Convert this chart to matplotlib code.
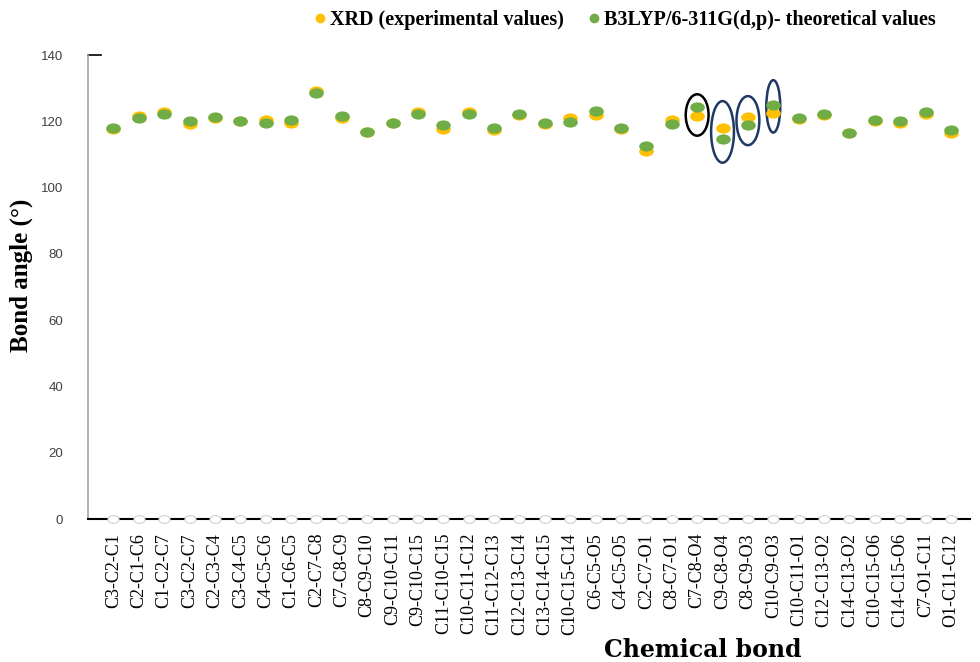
import numpy as np
import matplotlib
matplotlib.use("Agg")
import matplotlib.pyplot as plt
from matplotlib.path import Path
from matplotlib.patches import Ellipse
from matplotlib.lines import Line2D
from matplotlib.transforms import Affine2D

# bond angle labels (34 angles)
bonds = ["C3-C2-C1", "C2-C1-C6", "C1-C2-C7", "C3-C2-C7", "C2-C3-C4", "C3-C4-C5",
         "C4-C5-C6", "C1-C6-C5", "C2-C7-C8", "C7-C8-C9", "C8-C9-C10", "C9-C10-C11",
         "C9-C10-C15", "C11-C10-C15", "C10-C11-C12", "C11-C12-C13", "C12-C13-C14",
         "C13-C14-C15", "C10-C15-C14", "C6-C5-O5", "C4-C5-O5", "C2-C7-O1",
         "C8-C7-O1", "C7-C8-O4", "C9-C8-O4", "C8-C9-O3", "C10-C9-O3", "C10-C11-O1",
         "C12-C13-O2", "C14-C13-O2", "C10-C15-O6", "C14-C15-O6", "C7-O1-C11",
         "O1-C11-C12"]

# experimental (XRD) values
xrd = [117.8, 121.6, 122.9, 119.3, 121.0, 120.1, 120.4, 119.6, 129.0, 120.9,
       116.9, 119.4, 122.9, 117.8, 122.9, 117.5, 122.0, 119.3, 120.9, 121.9,
       117.7, 111.0, 120.4, 121.7, 117.9, 121.2, 122.4, 120.7, 121.9, 116.6,
       120.2, 119.4, 122.1, 116.6]

# B3LYP/6-311G(d,p) values
dft = [118.0, 121.1, 122.2, 120.1, 121.4, 120.2, 119.6, 120.5, 128.6, 121.6,
       116.9, 119.6, 122.2, 118.8, 122.1, 117.9, 122.3, 119.6, 119.9, 123.0,
       117.9, 112.6, 119.2, 124.2, 114.6, 118.8, 124.8, 120.9, 122.1, 116.6,
       120.4, 120.2, 122.7, 117.5]

series_names = ["XRD (experimental values)", "B3LYP/6-311G(d,p)- theoretical values"]
colors = ["#FFC000", "#70AD47"]

# highlighted angles: index, centre y, height (deg), width (category units), colour
highlights = [(23, 121.9, 12.5, 0.9, "black"),
              (24, 116.8, 18.6, 0.9, "#1F3864"),
              (25, 120.2, 14.8, 0.9, "#1F3864"),
              (26, 124.5, 15.8, 0.55, "#1F3864")]

x = np.arange(len(bonds))

# flattened dot marker like in the original
oval = Path.unit_circle().transformed(Affine2D().scale(1.0, 0.7))

fig = plt.figure(figsize=(9.8, 6.62), dpi=100)
ax = fig.add_axes([88 / 980, 143 / 662, 882 / 980, 464 / 662])

for vals, c in zip([xrd, dft], colors):
    ax.plot(x, vals, linestyle="none", marker=oval, markersize=10.5,
            markeredgewidth=0, color=c)

# faint empty circles along the axis
ax.plot(x, np.zeros(len(x)), linestyle="none", marker=oval, markersize=8,
        markerfacecolor="white", markeredgecolor="#D0D0D0", markeredgewidth=0.8,
        clip_on=False, zorder=5)

for i, yc, h, w, c in highlights:
    ax.add_patch(Ellipse((i, yc), w, h, fill=False, edgecolor=c, linewidth=1.8))

ax.set_xlim(-1, 33.75)
ax.set_ylim(0, 140)
ax.set_yticks(np.arange(0, 141, 20))
ax.set_xticks(x)
ax.set_xticklabels(bonds, rotation=90, family="Liberation Serif", fontsize=13,
                   va="top")
for lab in ax.get_yticklabels():
    lab.set_family("Liberation Sans")
    lab.set_fontsize(9.5)
    lab.set_color("#404040")
ax.tick_params(axis="y", length=0, pad=18)
ax.tick_params(axis="x", length=0, pad=10)

for s in ["top", "right"]:
    ax.spines[s].set_visible(False)
ax.spines["left"].set_color("#A6A6A6")
ax.spines["left"].set_linewidth(1.2)
ax.spines["bottom"].set_color("black")
ax.spines["bottom"].set_linewidth(1.5)
ax.plot([-1, -0.5], [140, 140], color="black", linewidth=1.2, clip_on=False)

ax.set_ylabel("Bond angle (°)", family="Liberation Serif", fontweight="bold",
              fontsize=18)
ax.yaxis.set_label_coords(-0.062, 0.526)
fig.text(703 / 980, 12 / 662, "Chemical bond", family="DejaVu Serif",
         fontweight="bold", fontsize=17, ha="center", va="center")

handles = [Line2D([], [], linestyle="none", marker="o", markersize=7,
                  markeredgewidth=0, color=c) for c in colors]
fig.legend(handles, series_names, loc="center",
           bbox_to_anchor=(624 / 980, 1 - 20 / 662), ncol=2,
           frameon=False, handletextpad=0.1, columnspacing=1.1, handlelength=0.8,
           prop={"family": "Liberation Serif", "weight": "bold", "size": 14.5})

fig.savefig("out.png", dpi=100)
